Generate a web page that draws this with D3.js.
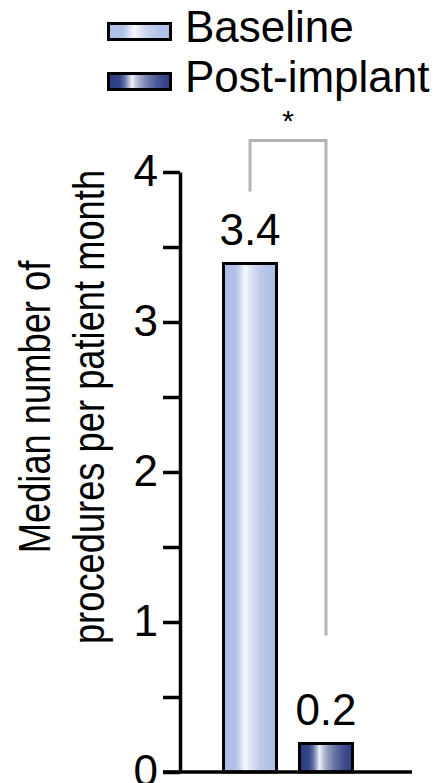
<!DOCTYPE html>
<html>
<head>
<meta charset="utf-8">
<script src="https://cdn.jsdelivr.net/npm/d3@7"></script>
<style>
  html, body { margin: 0; padding: 0; background: #fff; }
  svg { display: block; font-family: "Liberation Sans", Arial, Helvetica, sans-serif; }
</style>
</head>
<body>
<svg id="chart" width="437" height="783"></svg>
<script>
// Median procedures per patient month, before and after implant
const categories = ["Baseline", "Post-implant"];
const medianValues = [3.4, 0.2];
const valueLabels = ["3.4", "0.2"];
const yTickValues = [0, 0.5, 1, 1.5, 2, 2.5, 3, 3.5, 4];
const yTickLabels = ["0", "", "1", "", "2", "", "3", "", "4"];
const titleLines = ["Median number of", "procedures per patient month"];
const significance = "*";

const svg = d3.select("#chart");
const W = 437, H = 783;

// gradient fills for the two bar styles
const defs = svg.append("defs");
const gradients = [
  { id: "gBaseline", stops: [
    [0, "#adbee6"], [0.22, "#b1c1e7"], [0.30, "#c8d3ee"], [0.36, "#e4e9f6"],
    [0.42, "#f8f9fd"], [0.48, "#e3e8f5"], [0.58, "#d0d9f0"], [0.70, "#bfcbeb"],
    [0.82, "#b3c3e8"], [1, "#adbee6"] ] },
  { id: "gPost", stops: [
    [0, "#2b3c84"], [0.18, "#34468a"], [0.26, "#6672a5"], [0.32, "#a8b0cf"],
    [0.38, "#f2f3f8"], [0.44, "#c3c8dd"], [0.52, "#9aa2c4"], [0.62, "#7580ad"],
    [0.74, "#54619a"], [0.86, "#3b4b8b"], [1, "#2c3d85"] ] }
];
gradients.forEach(g => {
  const lg = defs.append("linearGradient").attr("id", g.id)
    .attr("x1", "0%").attr("x2", "100%").attr("y1", "0%").attr("y2", "0%");
  lg.selectAll("stop").data(g.stops).join("stop")
    .attr("offset", d => d[0]).attr("stop-color", d => d[1]);
});
const fillFor = c => c === categories[0] ? "url(#gBaseline)" : "url(#gPost)";

// scales
const axisX = 180;
const y = d3.scaleLinear().domain([0, 4]).range([772, 172]);
const x = d3.scaleBand().domain(categories)
  .range([axisX, 396]).paddingInner(0.263).paddingOuter(0.553);

// y axis
const tickLen = 17;
const yAxis = d3.axisLeft(y)
  .tickValues(yTickValues)
  .tickFormat((d, i) => yTickLabels[i])
  .tickSize(tickLen).tickSizeOuter(0).tickPadding(5);
const gy = svg.append("g").attr("transform", `translate(${axisX},0)`).call(yAxis);
gy.select(".domain").attr("stroke", "#000").attr("stroke-width", 3.5);
gy.selectAll(".tick line").attr("stroke", "#000").attr("stroke-width", 3.5);
gy.selectAll(".tick text")
  .attr("fill", "#000").attr("font-size", 44).attr("dy", "0.3em")
  .attr("font-family", "'Liberation Sans', Arial, sans-serif");

// bars
const bars = svg.append("g");
bars.selectAll("rect").data(categories).join("rect")
  .attr("x", c => x(c) + 1.5)
  .attr("width", x.bandwidth() - 3)
  .attr("y", (c, i) => y(medianValues[i]) + 1.5)
  .attr("height", (c, i) => y(0) - y(medianValues[i]) - 1.5)
  .attr("fill", c => fillFor(c))
  .attr("stroke", "#000").attr("stroke-width", 3);

// x axis baseline
svg.append("line")
  .attr("x1", axisX - tickLen).attr("x2", x.range()[1] + 16)
  .attr("y1", y(0)).attr("y2", y(0))
  .attr("stroke", "#000").attr("stroke-width", 3.5);

// value labels
svg.append("g").selectAll("text").data(categories).join("text")
  .attr("x", c => x(c) + x.bandwidth() / 2)
  .attr("y", (c, i) => y(medianValues[i]) - 17)
  .attr("text-anchor", "middle").attr("font-size", 44).attr("fill", "#000")
  .text((c, i) => valueLabels[i]);

// significance bracket
const cx = c => x(c) + x.bandwidth() / 2;
const bracketTop = y(4.21);
const leftFoot = y(medianValues[0] + 0.47);
const rightFoot = y(medianValues[1] + 0.71);
svg.append("path")
  .attr("d", `M${cx(categories[0])},${leftFoot}V${bracketTop}H${cx(categories[1])}V${rightFoot}`)
  .attr("fill", "none").attr("stroke", "#b3b3b3").attr("stroke-width", 3);
svg.append("text")
  .attr("x", (cx(categories[0]) + cx(categories[1])) / 2)
  .attr("y", 131)
  .attr("text-anchor", "middle").attr("font-size", 30).attr("fill", "#000")
  .text(significance);

// y axis title, two rotated lines
svg.append("g").selectAll("text").data(titleLines).join("text")
  .attr("transform", (d, i) => `translate(${50 + i * 54},407) rotate(-90) scale(0.825,1)`)
  .attr("text-anchor", "middle").attr("font-size", 44).attr("fill", "#000")
  .text(d => d);

// legend
const legend = svg.append("g");
const items = legend.selectAll("g").data(categories).join("g")
  .attr("transform", (d, i) => `translate(0,${42 + i * 50})`);
items.append("rect")
  .attr("x", 108.5).attr("y", -18.5).attr("width", 62).attr("height", 16)
  .attr("fill", d => fillFor(d)).attr("stroke", "#000").attr("stroke-width", 3);
items.append("text")
  .attr("x", 185).attr("y", 0)
  .attr("font-size", 44).attr("fill", "#000")
  .text(d => d);
</script>
</body>
</html>
